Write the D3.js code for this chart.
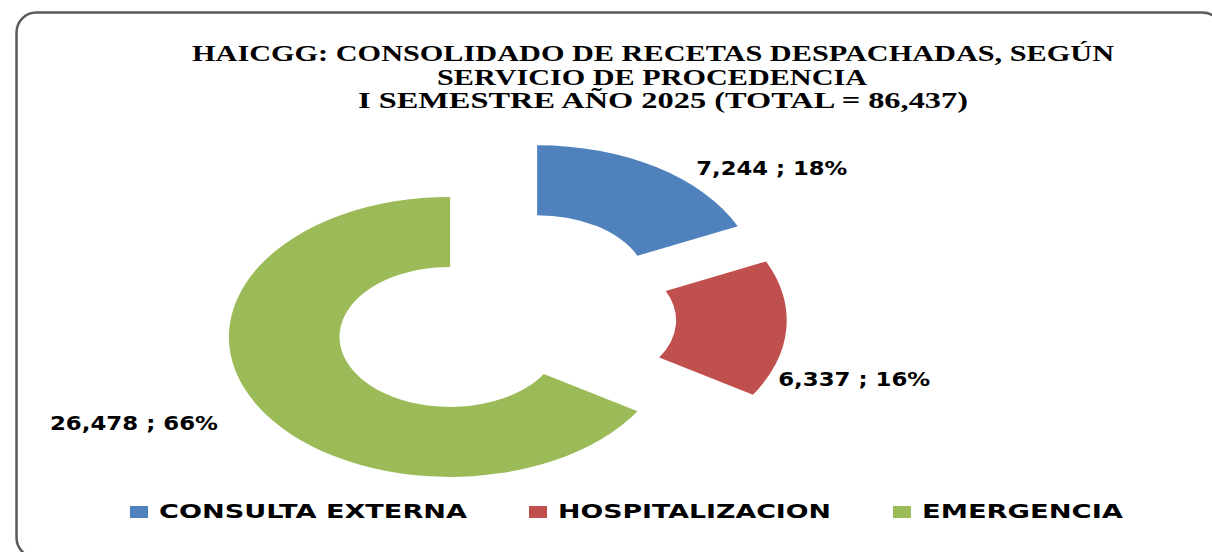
<!DOCTYPE html>
<html>
<head>
<meta charset="utf-8">
<script src="https://cdn.jsdelivr.net/npm/d3@7"></script>
<style>
  html, body { margin: 0; padding: 0; background: #ffffff; }
  svg { display: block; }
</style>
</head>
<body>
<svg id="chart" width="1212" height="552"></svg>
<script>
// Prescriptions dispatched by originating service, first half of 2025
const categories = ["CONSULTA EXTERNA", "HOSPITALIZACION", "EMERGENCIA"];
const values = [7244, 6337, 26478];
const colors = ["#4F81BD", "#C0504D", "#9BBB59"];
const titleLines = [
  "HAICGG: CONSOLIDADO DE RECETAS DESPACHADAS, SEGÚN",
  "SERVICIO DE PROCEDENCIA",
  "I SEMESTRE AÑO 2025 (TOTAL = 86,437)"
];

const svg = d3.select("#chart");

// rounded chart frame
svg.append("rect")
  .attr("x", 16.5).attr("y", 12.5)
  .attr("width", 1206).attr("height", 545)
  .attr("rx", 20).attr("ry", 20)
  .attr("fill", "#ffffff")
  .attr("stroke", "#5a5a5a")
  .attr("stroke-width", 2.5);

// title
const titleLayout = [
  { x: 192, y: 61, w: 922 },
  { x: 437, y: 85, w: 430 },
  { x: 358, y: 108, w: 610 }
];
svg.append("g").selectAll("text")
  .data(titleLines)
  .join("text")
  .attr("x", (d, i) => titleLayout[i].x)
  .attr("y", (d, i) => titleLayout[i].y)
  .attr("textLength", (d, i) => titleLayout[i].w)
  .attr("lengthAdjust", "spacingAndGlyphs")
  .attr("font-family", "'Liberation Serif', 'DejaVu Serif', serif")
  .attr("font-weight", "bold")
  .attr("font-size", 23)
  .attr("fill", "#000")
  .text(d => d);

// donut geometry (drawn in a horizontally stretched frame)
const center = [504, 318];
const sx = 1.58;
const rOuter = 140, rInner = 70, explode = 39;

const total = d3.sum(values);
const pie = d3.pie().sort(null).value(d => d.value);
const arcs = pie(values.map((v, i) => ({ name: categories[i], value: v, color: colors[i] })));
const arc = d3.arc().innerRadius(rInner).outerRadius(rOuter);

const offset = a => {
  const mid = (a.startAngle + a.endAngle) / 2;
  return [Math.sin(mid) * explode, -Math.cos(mid) * explode];
};

const donut = svg.append("g")
  .attr("transform", `translate(${center[0]},${center[1]}) scale(${sx},1)`);

donut.selectAll("path")
  .data(arcs)
  .join("path")
  .attr("transform", d => { const o = offset(d); return `translate(${o[0]},${o[1]})`; })
  .attr("d", arc)
  .attr("fill", d => d.data.color);

// data labels: "value ; percent", placed around each exploded slice
const fmt = d3.format(",");
const labelPolar = [
  { deg: 51.8, r: 189, w: 151 },
  { deg: 107.9, r: 192, w: 152 },
  { deg: 246.6, r: 218, w: 168 }
];
svg.append("g").selectAll("text")
  .data(arcs)
  .join("text")
  .attr("x", (d, i) => {
    const o = offset(d), a = labelPolar[i].deg * Math.PI / 180;
    return center[0] + (o[0] + Math.sin(a) * labelPolar[i].r) * sx;
  })
  .attr("y", (d, i) => {
    const o = offset(d), a = labelPolar[i].deg * Math.PI / 180;
    return center[1] + o[1] - Math.cos(a) * labelPolar[i].r + 6.5;
  })
  .attr("text-anchor", "middle")
  .attr("textLength", (d, i) => labelPolar[i].w)
  .attr("lengthAdjust", "spacingAndGlyphs")
  .attr("font-family", "'DejaVu Sans', Verdana, sans-serif")
  .attr("font-weight", "bold")
  .attr("font-size", 19)
  .attr("fill", "#000")
  .text(d => `${fmt(d.data.value)} ; ${Math.round(d.data.value / total * 100)}%`);

// legend
const legendTextW = [308, 273, 201];
const legendStart = 130, swW = 18, swH = 12, swGap = 11, itemGap = 62;
const legendY = 518;
let lx = legendStart;
const legend = svg.append("g");
categories.forEach((c, i) => {
  legend.append("rect")
    .attr("x", lx).attr("y", legendY - 12)
    .attr("width", swW).attr("height", swH)
    .attr("fill", colors[i]);
  legend.append("text")
    .attr("x", lx + swW + swGap)
    .attr("y", legendY)
    .attr("textLength", legendTextW[i])
    .attr("lengthAdjust", "spacingAndGlyphs")
    .attr("font-family", "'DejaVu Sans', Verdana, sans-serif")
    .attr("font-weight", "bold")
    .attr("font-size", 19.5)
    .attr("fill", "#000")
    .text(c);
  lx += swW + swGap + legendTextW[i] + itemGap;
});
</script>
</body>
</html>
